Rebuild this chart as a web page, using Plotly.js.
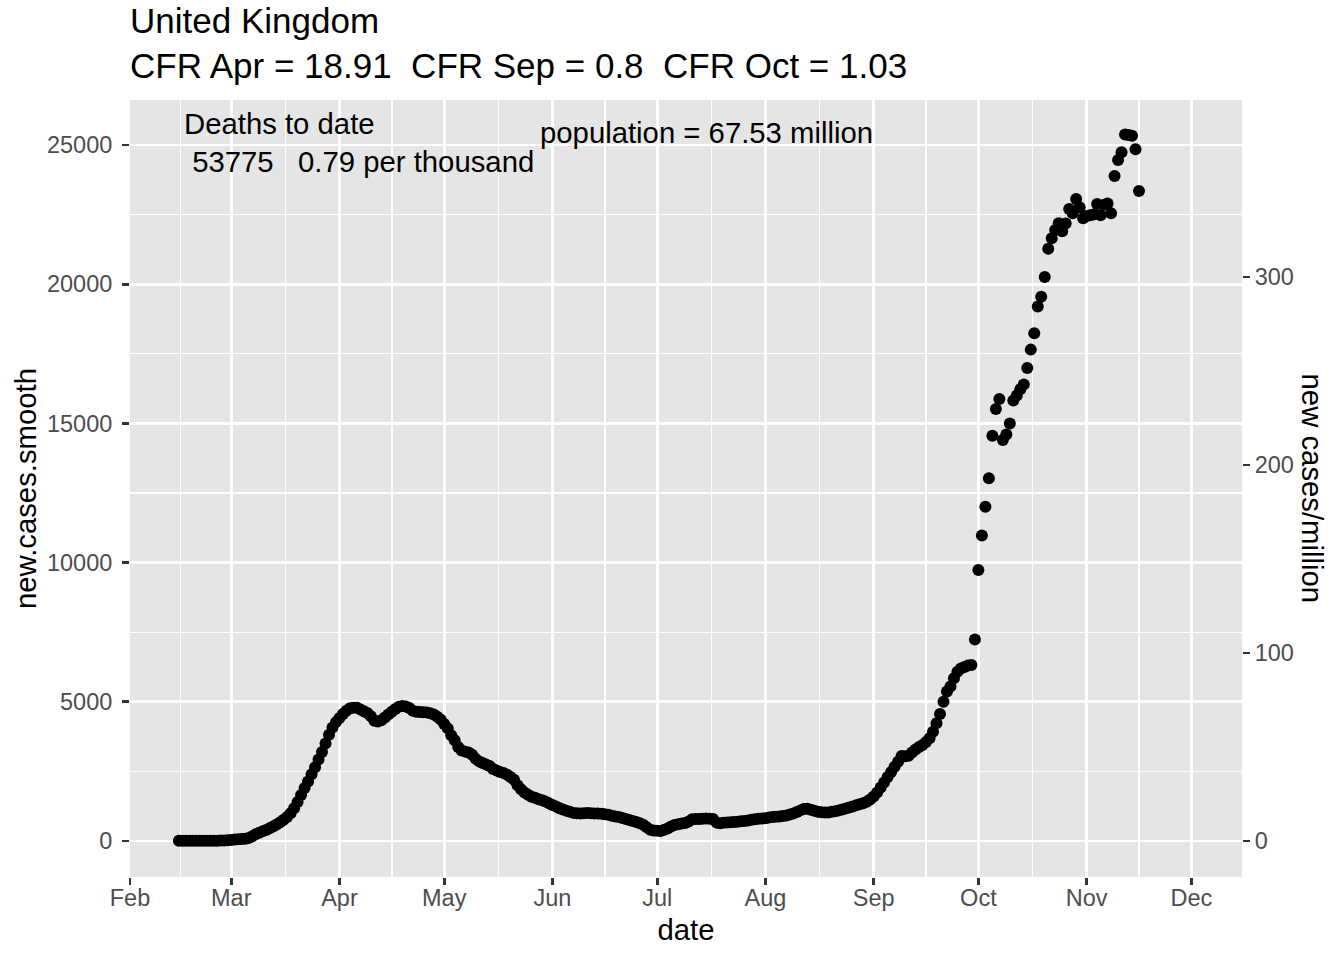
<!DOCTYPE html>
<html>
<head>
<meta charset="utf-8">
<script src="https://cdn.plot.ly/plotly-3.0.1.min.js"></script>
<style>
  html, body { margin: 0; padding: 0; background: #fff; }
  #chart { width: 1344px; height: 960px; }
</style>
</head>
<body>
<div id="chart"></div>
<script>
// daily smoothed new cases, UK, starting 15 Feb 2020
var startDate = '2020-02-15';
var febVals = [5, 5, 5, 5, 5, 6, 6, 7, 8, 9, 10, 12, 15, 20, 30];
var marVals = [40, 50, 60, 70, 85, 110, 170, 240, 300, 350,
  395, 460, 520, 590, 670, 760, 860, 1000, 1180, 1400,
  1650, 1900, 2140, 2400, 2650, 2930, 3200, 3500, 3820, 4080, 4270];
var aprVals = [4420, 4560, 4680, 4770, 4790, 4790, 4720, 4660, 4600, 4480,
  4320, 4290, 4340, 4440, 4540, 4640, 4740, 4820, 4850, 4830,
  4780, 4680, 4640, 4630, 4625, 4620, 4590, 4540, 4460, 4360];
var mayVals = [4200, 4050, 3800, 3620, 3380, 3250, 3210, 3180, 3100, 2950,
  2860, 2800, 2750, 2690, 2590, 2530, 2480, 2440, 2380, 2300,
  2200, 2000, 1860, 1740, 1660, 1590, 1550, 1500, 1460, 1420, 1360];
var junVals = [1290, 1240, 1180, 1130, 1090, 1050, 1010, 995, 990, 1000,
  1010, 1000, 990, 985, 975, 960, 940, 910, 880, 860,
  830, 790, 750, 720, 680, 635, 580, 490, 400, 375];
var julVals = [365, 360, 400, 450, 520, 575, 600, 630, 650, 700,
  780, 790, 790, 800, 810, 800, 790, 660, 640, 660,
  665, 670, 680, 690, 705, 720, 740, 760, 780, 795, 805];
var augVals = [815, 840, 860, 870, 880, 900, 920, 950, 990, 1040,
  1100, 1150, 1160, 1120, 1090, 1050, 1030, 1020, 1020, 1050,
  1070, 1100, 1130, 1170, 1200, 1240, 1280, 1320, 1360, 1410, 1490];
var sepVals = [1600, 1740, 1920, 2100, 2300, 2480, 2670, 2850, 3050, 3040,
  3060, 3180, 3290, 3380, 3450, 3560, 3690, 3925, 4230, 4560,
  5000, 5370, 5550, 5850, 6080, 6200, 6250, 6300, 6320, 7240];
var octVals = [9730, 10970, 12010, 13030, 14560, 15520, 15880, 14400, 14600, 15000,
  15820, 16000, 16230, 16400, 16990, 17650, 18240, 19200, 19550, 20260,
  21270, 21650, 21950, 22190, 21900, 22180, 22700, 22550, 23060, 22760, 22370];
var novVals = [22450, 22480, 22500, 22880, 22480, 22850, 22900, 22550, 23890, 24460,
  24740, 25380, 25360, 25330, 24850, 23350];

var population = 67.53; // million
var leftTicks = [0, 5000, 10000, 15000, 20000, 25000];
var rightTicks = [0, 100, 200, 300];
var minorDates = ['2020-02-15 12:00', '2020-03-16 12:00', '2020-04-16', '2020-05-16 12:00',
  '2020-06-16', '2020-07-16 12:00', '2020-08-16 12:00', '2020-09-16',
  '2020-10-16 12:00', '2020-11-16'];

var vals = [].concat(febVals, marVals, aprVals, mayVals, junVals, julVals,
  augVals, sepVals, octVals, novVals);
var dates = [];
var d0 = new Date(startDate + 'T00:00:00Z');
for (var i = 0; i < vals.length; i++) {
  var d = new Date(d0.getTime() + i * 86400000);
  dates.push(d.toISOString().slice(0, 10));
}

var font = 'Liberation Sans, Arial, Helvetica, sans-serif';
var yRange = [-1293, 26616];

var trace = {
  x: dates,
  y: vals,
  type: 'scatter',
  mode: 'markers',
  marker: { color: '#000', size: 12, line: { width: 0 } },
  hoverinfo: 'x+y'
};

var layout = {
  width: 1344,
  height: 960,
  paper_bgcolor: '#fff',
  plot_bgcolor: '#E5E5E5',
  margin: { l: 130, r: 102, t: 100, b: 83 },
  showlegend: false,
  font: { family: font, color: '#000' },
  title: {
    text: 'United Kingdom<br>CFR Apr = 18.91\u00a0 CFR Sep = 0.8\u00a0 CFR Oct = 1.03',
    font: { family: font, size: 35, color: '#000' },
    xref: 'paper', x: 0, xanchor: 'left',
    yref: 'container', y: 0.966, yanchor: 'top'
  },
  xaxis: {
    type: 'date',
    range: ['2020-02-01', '2020-12-15 12:00'],
    tick0: '2020-02-01',
    dtick: 'M1',
    tickformat: '%b',
    ticks: 'outside',
    ticklen: 7,
    tickwidth: 2.8,
    tickcolor: '#333',
    ticklabelstandoff: -7,
    tickfont: { family: font, size: 23.5, color: '#4D4D4D' },
    showgrid: true,
    gridcolor: '#fff',
    gridwidth: 2.8,
    minor: { tickmode: 'array', tickvals: minorDates, showgrid: true, gridcolor: '#fff', gridwidth: 1.4, ticks: '' },
    zeroline: false,
    showline: false,
    fixedrange: true,
    title: { text: 'date', font: { family: font, size: 29.3, color: '#000' }, standoff: 9 }
  },
  yaxis: {
    range: yRange,
    tickmode: 'array',
    tickvals: leftTicks,
    ticktext: leftTicks.map(String),
    ticks: 'outside',
    ticklen: 7,
    tickwidth: 2.8,
    tickcolor: '#333',
    ticklabelstandoff: 5,
    tickfont: { family: font, size: 23.5, color: '#4D4D4D' },
    showgrid: true,
    gridcolor: '#fff',
    gridwidth: 2.8,
    minor: { dtick: 2500, tick0: 0, showgrid: true, gridcolor: '#fff', gridwidth: 1.4, ticks: '' },
    zeroline: false,
    showline: false,
    title: { text: 'new.cases.smooth', font: { family: font, size: 29.3, color: '#000' }, standoff: 1 }
  },
  yaxis2: {
    overlaying: 'y',
    side: 'right',
    range: [yRange[0] / population, yRange[1] / population],
    tickmode: 'array',
    tickvals: rightTicks,
    ticks: 'outside',
    ticklen: 7,
    tickwidth: 2.8,
    tickcolor: '#333',
    tickfont: { family: font, size: 23.5, color: '#4D4D4D' },
    showgrid: false,
    zeroline: false,
    showline: false
  },
  annotations: [
    {
      xref: 'paper', yref: 'paper', x: 1.0638, y: 0.5,
      xanchor: 'center', yanchor: 'middle',
      text: 'new cases/million', textangle: 90, showarrow: false,
      font: { family: font, size: 29.3, color: '#000' }
    },
    {
      xref: 'paper', yref: 'paper', x: 0.0468, y: 0.9453,
      xanchor: 'left', yanchor: 'middle', align: 'left',
      text: 'Deaths to date<br>\u00a053775\u00a0\u00a0\u00a00.79 per thousand',
      showarrow: false,
      font: { family: font, size: 29.3, color: '#000' }
    },
    {
      xref: 'paper', yref: 'paper', x: 0.5184, y: 0.9588,
      xanchor: 'center', yanchor: 'middle',
      text: 'population = 67.53 million',
      showarrow: false,
      font: { family: font, size: 29.3, color: '#000' }
    }
  ]
};

// invisible trace to carry the right-hand axis
var ghost = {
  x: [dates[0]], y: [0], yaxis: 'y2', type: 'scatter', mode: 'markers',
  marker: { opacity: 0 }, hoverinfo: 'skip'
};

Plotly.newPlot('chart', [trace, ghost], layout, { displayModeBar: false, staticPlot: true });
</script>
</body>
</html>
